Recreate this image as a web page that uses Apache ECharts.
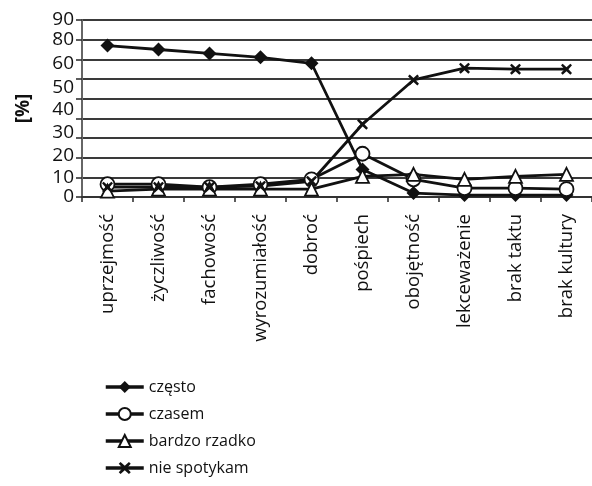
<!DOCTYPE html>
<html>
<head>
<meta charset="utf-8">
<script src="https://cdn.jsdelivr.net/npm/echarts@6/dist/echarts.min.js"></script>
<style>
  html, body { margin: 0; padding: 0; background: #fff; }
  #chart { width: 592px; height: 486px; }
</style>
</head>
<body>
<div id="chart"></div>
<script>
// Categories along the x axis
const categories = ['uprzejmość', 'życzliwość', 'fachowość', 'wyrozumiałość', 'dobroć',
                    'pośpiech', 'obojętność', 'lekceważenie', 'brak taktu', 'brak kultury'];

// Series values (%)
const czesto       = [77, 75, 73, 71, 68, 14, 2, 1, 1, 1];
const czasem       = [6.5, 6.5, 5, 6.5, 9, 22, 9, 4.5, 4.5, 4];
const bardzoRzadko = [3, 4, 4, 4, 4, 10.5, 11.5, 9, 10.5, 11.5];
const nieSpotykam  = [5, 5, 5, 5.5, 8, 37, 59.5, 65.5, 65, 65];

// Y tick label texts, bottom to top
const yTickLabels = ['0', '10', '20', '30', '40', '50', '60', '80', '90'];

const seriesNames = ['często', 'czasem', 'bardzo rzadko', 'nie spotykam'];

const FONT = '"Open Sans", "DejaVu Sans", sans-serif';
const INK = '#111';

// Value at which each y tick label is drawn
const yLabelAt = [0, 9.7, 20.8, 32.5, 44.5, 55.5, 68, 80, 90];

const crossPath = 'path://M1.5,0 L5,3.2 L8.5,0 L10,1.5 L6.8,5 L10,8.5 L8.5,10 L5,6.8 L1.5,10 L0,8.5 L3.2,5 L0,1.5 Z';

function lineSeries(name, data, symbol, size, fill) {
  return {
    name: name,
    type: 'line',
    data: data,
    symbol: symbol,
    symbolSize: size,
    showAllSymbol: true,
    lineStyle: { color: INK, width: 2.8 },
    itemStyle: { color: fill, borderColor: INK, borderWidth: fill === '#fff' ? 1.8 : 0 },
    emphasis: { disabled: true },
    animation: false,
    z: 3
  };
}

const chart = echarts.init(document.getElementById('chart'), null, { renderer: 'canvas' });
chart.setOption({
  backgroundColor: '#fff',
  animation: false,
  grid: { left: 82, top: 20, width: 515, height: 177, containLabel: false },
  legend: {
    orient: 'vertical',
    left: 99,
    top: 374,
    itemWidth: 38,
    itemHeight: 15,
    itemGap: 11,
    lineStyle: { width: 3.5, color: INK },
    textStyle: { fontFamily: FONT, fontSize: 16, color: INK },
    data: seriesNames
  },
  xAxis: {
    type: 'category',
    data: categories,
    boundaryGap: true,
    axisLine: { show: true, lineStyle: { color: '#333', width: 2.2 } },
    axisTick: { show: true, length: 5, lineStyle: { color: '#333', width: 1.6 } },
    axisLabel: {
      rotate: 90,
      interval: 0,
      margin: 17,
      fontFamily: FONT,
      fontSize: 18.5,
      color: INK
    }
  },
  yAxis: {
    type: 'value',
    min: 0,
    max: 90,
    interval: 10,
    name: '[%]',
    nameLocation: 'middle',
    nameRotate: 90,
    nameGap: 49,
    nameTextStyle: { fontFamily: FONT, fontSize: 19, fontWeight: 'bold', color: INK },
    axisLine: { show: true, lineStyle: { color: '#666', width: 2 } },
    axisTick: { show: true, inside: false, length: 6, lineStyle: { color: '#333', width: 1.6 } },
    splitLine: { show: true, lineStyle: { color: '#3a3a3a', width: 2 } },
    axisLabel: {
      customValues: yLabelAt,
      margin: 8,
      fontFamily: FONT,
      fontSize: 19,
      color: INK,
      formatter: function (v) {
        const i = yLabelAt.indexOf(v);
        return i >= 0 ? yTickLabels[i] : '';
      }
    }
  },
  series: [
    lineSeries(seriesNames[0], czesto, 'diamond', 14, INK),
    lineSeries(seriesNames[1], czasem, 'circle', 14, '#fff'),
    lineSeries(seriesNames[2], bardzoRzadko, 'triangle', 13, '#fff'),
    lineSeries(seriesNames[3], nieSpotykam, crossPath, 11, INK)
  ]
});
</script>
</body>
</html>
